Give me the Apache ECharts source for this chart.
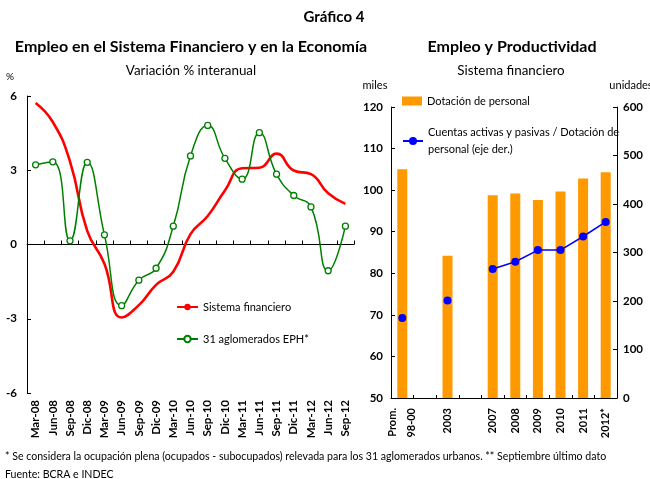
<!DOCTYPE html>
<html><head><meta charset="utf-8">
<script src="https://cdn.jsdelivr.net/npm/echarts@6/dist/echarts.min.js"></script>
<style>html,body{margin:0;padding:0;background:#fff}#c{width:650px;height:479px}</style>
</head><body><div id="c"></div>
<script>
// Left chart: quarterly year-on-year % change
const quarters = ['Mar-08','Jun-08','Sep-08','Dic-08','Mar-09','Jun-09','Sep-09','Dic-09','Mar-10','Jun-10','Sep-10','Dic-10','Mar-11','Jun-11','Sep-11','Dic-11','Mar-12','Jun-12','Sep-12'];
const sistemaFinanciero = [5.72, 4.95, 3.35, 0.55, -0.78, -2.95, -2.45, -1.63, -1.10, 0.42, 1.15, 2.18, 3.08, 3.10, 3.67, 2.99, 2.84, 2.07, 1.64];
const aglomeradosEPH = [3.22, 3.34, 0.15, 3.32, 0.39, -2.47, -1.44, -0.96, 0.74, 3.58, 4.81, 3.48, 2.64, 4.52, 2.84, 1.98, 1.52, -1.06, 0.74];
const leftAxisRange = [-6, 6, 3];

// Right chart: employment and productivity
const years = ['Prom.\n98-00', '', '2003', ' ', '2007', '2008', '2009', '2010', '2011', '2012*'];
const dotacionPersonal = [105.0, null, 84.2, null, 98.8, 99.2, 97.6, 99.7, 102.8, 104.3];
const cuentasPorEmpleado = [165, null, 201, null, 266, 281, 305, 305, 333, 363];
const milesRange = [50, 120, 10];
const unidadesRange = [0, 600, 100];

const FONT = 'Lato';
const chart = echarts.init(document.getElementById('c'), null, {renderer: 'canvas'});

function txt(text, x, y, size, bold, align) {
  return {type: 'text', x: x, y: y, silent: true, style: {
    text: text, fontFamily: FONT, fontSize: size, fontWeight: bold ? 'bold' : 'normal',
    fill: '#000', align: align || 'center', verticalAlign: 'middle'}};
}

const axisLabelBold = {color: '#000', fontWeight: 'bold', fontSize: 11, fontFamily: FONT};

chart.setOption({
  animation: false,
  textStyle: {fontFamily: FONT},
  grid: [
    {left: 27, top: 96, width: 327, height: 297},
    {left: 391, top: 107, width: 226, height: 291}
  ],
  xAxis: [
    {gridIndex: 0, type: 'category', data: quarters, position: 'bottom',
     axisLine: {show: false, onZero: false}, axisTick: {show: false},
     axisLabel: Object.assign({rotate: 90, interval: 0, margin: 7}, axisLabelBold, {fontSize: 11.5})},
    {gridIndex: 0, type: 'category', data: quarters, position: 'bottom',
     axisLine: {show: true, onZero: true, lineStyle: {color: '#000', width: 1}},
     axisTick: {show: true, inside: true, length: 4, interval: 0, lineStyle: {color: '#000'}},
     axisLabel: {show: false}},
    {gridIndex: 1, type: 'category', data: years, position: 'bottom',
     axisLine: {show: true, onZero: false, lineStyle: {color: '#000', width: 1}},
     axisTick: {show: true, inside: true, length: 3, interval: 0, lineStyle: {color: '#000'}},
     axisLabel: Object.assign({rotate: 90, interval: 0, margin: 10, lineHeight: 19}, axisLabelBold)}
  ],
  yAxis: [
    {gridIndex: 0, type: 'value', min: leftAxisRange[0], max: leftAxisRange[1], interval: leftAxisRange[2],
     axisLine: {show: true, onZero: false, lineStyle: {color: '#000'}},
     axisTick: {show: true, inside: true, length: 4, lineStyle: {color: '#000'}},
     splitLine: {show: false},
     axisLabel: Object.assign({margin: 10}, axisLabelBold, {fontSize: 11.5})},
    {gridIndex: 1, type: 'value', position: 'left', min: milesRange[0], max: milesRange[1], interval: milesRange[2],
     axisLine: {show: true, onZero: false, lineStyle: {color: '#000'}},
     axisTick: {show: true, inside: true, length: 4, lineStyle: {color: '#000'}},
     splitLine: {show: false},
     axisLabel: Object.assign({margin: 8}, axisLabelBold, {fontSize: 11.5})},
    {gridIndex: 1, type: 'value', position: 'right', min: unidadesRange[0], max: unidadesRange[1], interval: unidadesRange[2],
     axisLine: {show: true, onZero: false, lineStyle: {color: '#000'}},
     axisTick: {show: true, inside: true, length: 4, lineStyle: {color: '#000'}},
     splitLine: {show: false},
     axisLabel: Object.assign({margin: 6}, axisLabelBold, {fontSize: 11.5})}
  ],
  legend: [
    {left: 176, top: 300, orient: 'vertical', padding: 0, itemGap: 18, itemWidth: 21, itemHeight: 8,
     textStyle: {fontSize: 11, color: '#000', lineHeight: 14, fontFamily: FONT},
     data: ['Sistema financiero', '31 aglomerados EPH*']},
    {left: 402, top: 94, padding: 0, itemWidth: 20, itemHeight: 9,
     textStyle: {fontSize: 11, color: '#000', lineHeight: 14, fontFamily: FONT},
     data: [{name: 'Dotación de personal', icon: 'rect'}]},
    {left: 402, top: 114.6, padding: 0, itemWidth: 20, itemHeight: 10,
     formatter: function () { return 'Cuentas activas y pasivas / Dotación de\npersonal (eje der.)'; },
     textStyle: {fontSize: 11, color: '#000', lineHeight: 17.6, padding: [17.6, 0, 0, 0], fontFamily: FONT},
     data: ['Cuentas activas y pasivas / Dotación de personal (eje der.)']}
  ],
  series: [
    {name: 'Sistema financiero', type: 'line', xAxisIndex: 0, yAxisIndex: 0, data: sistemaFinanciero,
     smooth: 0.5, symbol: 'none', lineStyle: {color: '#FF0000', width: 2.6}, itemStyle: {color: '#FF0000'}, z: 3},
    {name: '31 aglomerados EPH*', type: 'line', xAxisIndex: 0, yAxisIndex: 0, data: aglomeradosEPH,
     smooth: 0.5, symbol: 'circle', symbolSize: 6,
     lineStyle: {color: '#008000', width: 1.5},
     itemStyle: {color: '#ffffff', borderColor: '#008000', borderWidth: 1.3}, z: 4},
    {name: 'Dotación de personal', type: 'bar', xAxisIndex: 2, yAxisIndex: 1, data: dotacionPersonal,
     barWidth: 10, itemStyle: {color: '#FF9900'}},
    {name: 'Cuentas activas y pasivas / Dotación de personal (eje der.)', type: 'line', xAxisIndex: 2, yAxisIndex: 2,
     data: cuentasPorEmpleado, connectNulls: false, symbol: 'circle', symbolSize: 8,
     lineStyle: {color: '#0000FF', width: 1.5}, itemStyle: {color: '#0000FF'}, z: 5}
  ],
  graphic: [
    txt('Gráfico 4', 334, 17, 15, true),
    txt('Empleo en el Sistema Financiero y en la Economía', 191, 47, 16, true),
    txt('Empleo y Productividad', 512, 47, 16, true),
    txt('Variación % interanual', 191, 71, 13.4, false),
    txt('Sistema financiero', 511, 71, 13.4, false),
    txt('%', 10, 77, 10, false),
    txt('miles', 375, 85, 11, false),
    txt('unidades', 631, 85, 11, false),
    txt('* Se considera la ocupación plena (ocupados - subocupados) relevada para los 31 aglomerados urbanos. ** Septiembre último dato', 5, 457, 10.6, false, 'left'),
    txt('Fuente: BCRA e INDEC', 5, 475, 10.6, false, 'left')
  ]
});
</script></body></html>
